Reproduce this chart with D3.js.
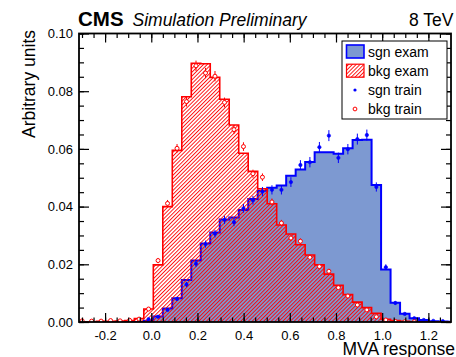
<!DOCTYPE html>
<html>
<head>
<meta charset="utf-8">
<script src="https://cdn.jsdelivr.net/npm/d3@7"></script>
<style>
  body { margin: 0; background: #fff; }
  svg text { font-family: "Liberation Sans", Arial, Helvetica, sans-serif; fill: #000; }
</style>
</head>
<body>
<svg id="chart" width="456" height="357"></svg>
<script>
// Histogram binning of the MVA output
const binLow = -0.32;
const binWidth = 0.0411;

// Test-sample distributions (normalised)
const sgnExam = [0, 0, 0, 0, 0, 0, 0, 0.0004, 0.0019, 0.0047,
  0.0082, 0.0146, 0.0213, 0.0272, 0.0310, 0.0355, 0.0362, 0.0388, 0.0426, 0.0455,
  0.0465, 0.0473, 0.0507, 0.0529, 0.0555, 0.0588, 0.0588, 0.0583, 0.0602, 0.0631,
  0.0632, 0.0475, 0.0182, 0.0067, 0.0029, 0.0013, 0.0007, 0.0003, 0.0002, 0.0001];
const bkgExam = [0.0001, 0.0001, 0.0002, 0.0002, 0.0003, 0.0005, 0.0012, 0.0045, 0.0198, 0.0400,
  0.0595, 0.0781, 0.0897, 0.0895, 0.0848, 0.0772, 0.0683, 0.0585, 0.0522, 0.0462,
  0.0410, 0.0336, 0.0305, 0.0268, 0.0232, 0.0198, 0.0166, 0.0127, 0.0095, 0.0069,
  0.0050, 0.0030, 0.0009, 0.0005, 0.0002, 0.0001, 0.0001, 0, 0, 0];

// Training-sample distributions with statistical errors (null = empty bin)
const sgnTrain = [null, null, null, null, null, null, null, 0.0010, 0.0018, 0.0042,
  0.0080, 0.0130, 0.0202, 0.0270, 0.0306, 0.0354, 0.0346, 0.0394, 0.0422, 0.0452,
  0.0458, 0.0458, 0.0485, 0.0544, 0.0554, 0.0606, 0.0646, 0.0569, 0.0599, 0.0634,
  0.0648, 0.0468, 0.0190, 0.0066, 0.0028, 0.0013, 0.0007, 0.0004, 0.0003, null];
const sgnTrainErr = [0, 0, 0, 0, 0, 0, 0, 0.00024, 0.0003, 0.0005,
  0.0007, 0.0009, 0.0011, 0.0012, 0.0013, 0.0014, 0.0014, 0.0015, 0.0015, 0.0016,
  0.0016, 0.0016, 0.0017, 0.0017, 0.0018, 0.0018, 0.0019, 0.0018, 0.0018, 0.0019,
  0.0019, 0.0016, 0.0010, 0.0006, 0.0004, 0.0003, 0.0002, 0.00015, 0.00013, 0];
const bkgTrain = [0.0004, 0.0003, 0.0003, 0.0005, 0.0004, 0.0006, 0.0010, 0.0045, 0.0213, 0.0411,
  0.0602, 0.0764, 0.0888, 0.0863, 0.0852, 0.0761, 0.0667, 0.0608, 0.0514, 0.0502,
  0.0416, 0.0343, 0.0291, 0.0280, 0.0224, 0.0192, 0.0176, 0.0119, 0.0090, 0.0059,
  0.0042, 0.0018, 0.0007, 0.0002, 0.0001, 0.0001, null, null, null, null];
const bkgTrainErr = [0.00012, 0.0001, 0.0001, 0.00013, 0.00012, 0.00015, 0.00019, 0.0004, 0.0009, 0.0012,
  0.0015, 0.0017, 0.0018, 0.0018, 0.0018, 0.0017, 0.0015, 0.0015, 0.0014, 0.0013,
  0.0012, 0.0011, 0.0010, 0.0010, 0.0009, 0.0008, 0.0008, 0.0007, 0.0006, 0.0005,
  0.0004, 0.00025, 0.00016, 0.00008, 0.00006, 0.00006, 0, 0, 0, 0];

// Axis ticks
const xTicks = [-0.2, 0.0, 0.2, 0.4, 0.6, 0.8, 1.0, 1.2];
const yTicks = [0.00, 0.02, 0.04, 0.06, 0.08, 0.10];

const legendLabels = ["sgn exam", "bkg exam", "sgn train", "bkg train"];

const sgnFill = "#7d99d1", sgnLine = "#0000ff", bkgColor = "#ff0000";

const frame = { left: 79, right: 451, top: 33.5, bottom: 322 };
const x = d3.scaleLinear().domain([-0.313, 1.298]).range([frame.left, frame.right]);
const y = d3.scaleLinear().domain([0, 0.1]).range([frame.bottom, frame.top]);

const svg = d3.select("#chart");
const defs = svg.append("defs");

defs.append("clipPath").attr("id", "frameClip")
  .append("rect")
  .attr("x", frame.left).attr("y", frame.top)
  .attr("width", frame.right - frame.left).attr("height", frame.bottom - frame.top);

// diagonal "///" hatching for the background histogram
const hatch = defs.append("pattern").attr("id", "hatch")
  .attr("patternUnits", "userSpaceOnUse")
  .attr("width", 2.7).attr("height", 2.7)
  .attr("patternTransform", "rotate(45)");
hatch.append("line")
  .attr("x1", 0.5).attr("y1", 0).attr("x2", 0.5).attr("y2", 2.7)
  .attr("stroke", bkgColor).attr("stroke-width", 0.9);

const edge = k => binLow + k * binWidth;
const center = k => binLow + (k + 0.5) * binWidth;

function stepPoints(vals) {
  const pts = [[edge(0), 0]];
  vals.forEach((v, k) => { pts.push([edge(k), v]); pts.push([edge(k + 1), v]); });
  pts.push([edge(vals.length), 0]);
  return pts;
}
const line = d3.line().x(d => x(d[0])).y(d => y(d[1]));

const plot = svg.append("g").attr("clip-path", "url(#frameClip)");

// signal test histogram: filled
plot.append("path").attr("d", line(stepPoints(sgnExam)) + "Z")
  .attr("fill", sgnFill).attr("stroke", "none");
plot.append("path").attr("d", line(stepPoints(sgnExam)))
  .attr("fill", "none").attr("stroke", sgnLine).attr("stroke-width", 2);

// background test histogram: hatched
plot.append("path").attr("d", line(stepPoints(bkgExam)) + "Z")
  .attr("fill", "url(#hatch)").attr("stroke", "none");
plot.append("path").attr("d", line(stepPoints(bkgExam)))
  .attr("fill", "none").attr("stroke", bkgColor).attr("stroke-width", 1.6);

// training samples with error bars
function drawPoints(vals, errs, color, filled) {
  const pts = vals.map((v, k) => ({ k, v, e: errs[k] })).filter(d => d.v !== null);
  const g = plot.append("g");
  g.selectAll("line").data(pts).join("line")
    .attr("x1", d => x(center(d.k))).attr("x2", d => x(center(d.k)))
    .attr("y1", d => y(d.v + d.e)).attr("y2", d => y(Math.max(0, d.v - d.e)))
    .attr("stroke", color).attr("stroke-width", 1);
  g.selectAll("circle").data(pts).join("circle")
    .attr("cx", d => x(center(d.k))).attr("cy", d => y(d.v))
    .attr("r", filled ? 1.7 : 2)
    .attr("fill", filled ? color : "#fff")
    .attr("stroke", color).attr("stroke-width", filled ? 0.6 : 1);
}
drawPoints(sgnTrain, sgnTrainErr, sgnLine, true);
drawPoints(bkgTrain, bkgTrainErr, bkgColor, false);

// axes with inward ticks on all four sides
const xMinor = d3.range(-6, 27).map(i => i * 0.05).filter(v => v >= -0.313 && v <= 1.298);
const yMinor = d3.range(0, 21).map(i => i * 0.005);

function styleAxis(g) {
  g.select(".domain").remove();
  g.selectAll(".tick line").attr("stroke", "#000").attr("stroke-width", 1.2);
  g.selectAll(".tick text").style("font-size", "13px")
    .style("font-family", '"Liberation Sans", Arial, Helvetica, sans-serif').attr("fill", "#000");
}

svg.append("g").attr("transform", `translate(0,${frame.bottom})`)
  .call(d3.axisBottom(x).tickValues(xMinor).tickSize(-4.5).tickFormat(""))
  .call(styleAxis);
svg.append("g").attr("transform", `translate(0,${frame.bottom})`)
  .call(d3.axisBottom(x).tickValues(xTicks).tickSize(-9).tickPadding(8.5)
    .tickFormat(d => d.toFixed(1)))
  .call(styleAxis);
svg.append("g").attr("transform", `translate(0,${frame.top})`)
  .call(d3.axisTop(x).tickValues(xMinor).tickSize(-4.5).tickFormat(""))
  .call(styleAxis);
svg.append("g").attr("transform", `translate(0,${frame.top})`)
  .call(d3.axisTop(x).tickValues(xTicks).tickSize(-9).tickFormat(""))
  .call(styleAxis);

svg.append("g").attr("transform", `translate(${frame.left},0)`)
  .call(d3.axisLeft(y).tickValues(yMinor).tickSize(-5).tickFormat(""))
  .call(styleAxis);
svg.append("g").attr("transform", `translate(${frame.left},0)`)
  .call(d3.axisLeft(y).tickValues(yTicks).tickSize(-10).tickPadding(6)
    .tickFormat(d => d.toFixed(2)))
  .call(styleAxis);
svg.append("g").attr("transform", `translate(${frame.right},0)`)
  .call(d3.axisRight(y).tickValues(yMinor).tickSize(-5).tickFormat(""))
  .call(styleAxis);
svg.append("g").attr("transform", `translate(${frame.right},0)`)
  .call(d3.axisRight(y).tickValues(yTicks).tickSize(-10).tickFormat(""))
  .call(styleAxis);

// frame
svg.append("rect")
  .attr("x", frame.left).attr("y", frame.top)
  .attr("width", frame.right - frame.left).attr("height", frame.bottom - frame.top)
  .attr("fill", "none").attr("stroke", "#000").attr("stroke-width", 1.8);

// axis titles
svg.append("text").attr("x", 455).attr("y", 354.5).attr("text-anchor", "end")
  .style("font-size", "17.5px").text("MVA response");
svg.append("text").attr("transform", "translate(35,30) rotate(-90)")
  .attr("text-anchor", "end").style("font-size", "17.5px").text("Arbitrary units");

// header
svg.append("text").attr("x", 78).attr("y", 26)
  .style("font-size", "20.5px").style("font-weight", "bold").text("CMS");
svg.append("text").attr("x", 132.5).attr("y", 26)
  .style("font-size", "17.5px").style("font-style", "italic").text("Simulation Preliminary");
svg.append("text").attr("x", 409).attr("y", 26)
  .style("font-size", "17.5px").text("8 TeV");

// legend
const lg = svg.append("g");
lg.append("rect").attr("x", 342).attr("y", 41).attr("width", 105).attr("height", 78)
  .attr("fill", "#fff").attr("stroke", "#000").attr("stroke-width", 1);
const rowY = [51.5, 70.7, 90, 109];
lg.append("rect").attr("x", 346.5).attr("y", rowY[0] - 6.5).attr("width", 17.5).attr("height", 13)
  .attr("fill", sgnFill).attr("stroke", sgnLine).attr("stroke-width", 1.6);
lg.append("rect").attr("x", 346.5).attr("y", rowY[1] - 6.5).attr("width", 17.5).attr("height", 13)
  .attr("fill", "url(#hatch)").attr("stroke", bkgColor).attr("stroke-width", 1.2);
lg.append("circle").attr("cx", 355).attr("cy", rowY[2]).attr("r", 1.6).attr("fill", sgnLine);
lg.append("circle").attr("cx", 355).attr("cy", rowY[3]).attr("r", 1.9)
  .attr("fill", "#fff").attr("stroke", bkgColor).attr("stroke-width", 1);
lg.selectAll("text.lab").data(legendLabels).join("text").attr("class", "lab")
  .attr("x", 368).attr("y", (d, i) => rowY[i] + 5)
  .style("font-size", "14px").text(d => d);
</script>
</body>
</html>
